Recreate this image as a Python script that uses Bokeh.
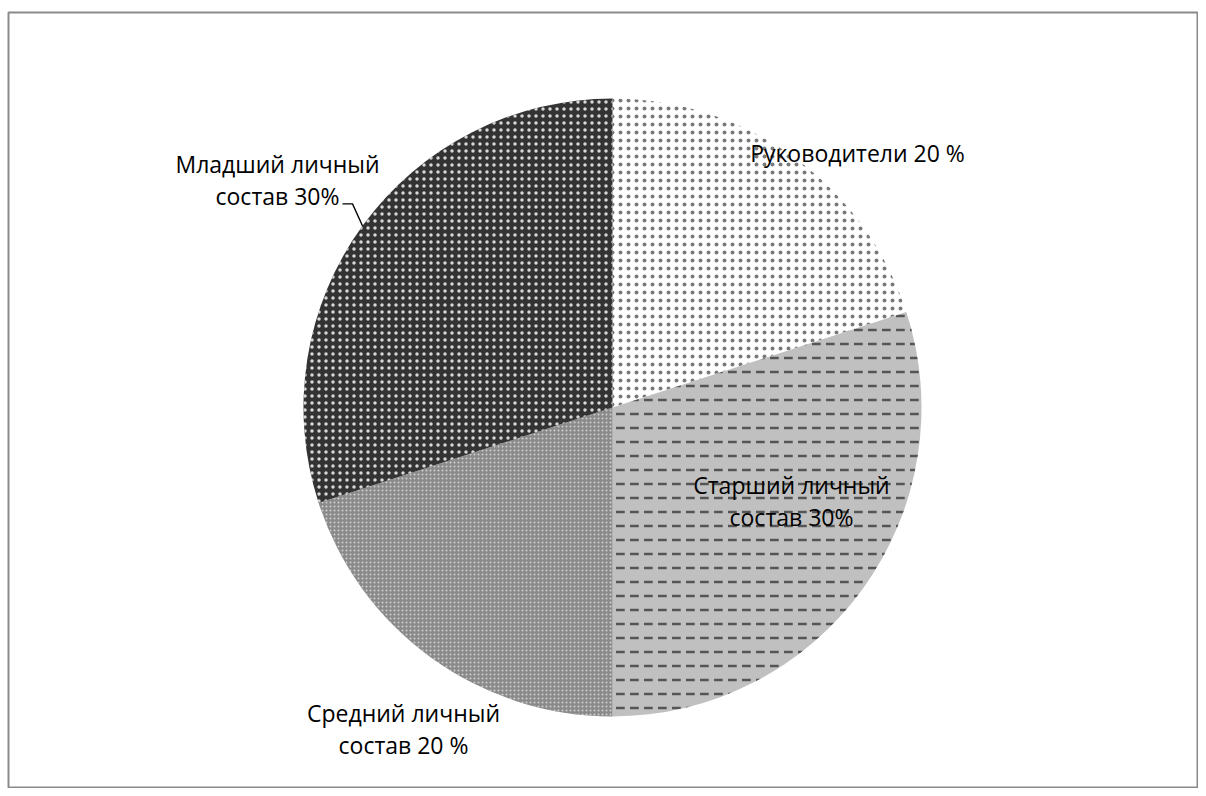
import math
from bokeh.plotting import figure
from bokeh.models import Range1d
from bokeh.core.properties import value
from bokeh.embed import file_html
from bokeh.resources import INLINE

# ---- data ----
categories = ["Руководители", "Старший личный состав", "Средний личный состав", "Младший личный состав"]
shares = [20, 30, 20, 30]
label_line1 = ["Руководители 20 %", "Старший личный", "Средний личный", "Младший личный"]
label_line2 = ["", "состав 30%", "состав 20 %", "состав 30%"]

# ---- styles ----
fills = ["#ffffff", "#c0c0c0", "#8a8a8a", "#333333"]
hatches = ["dot", "horizontal_dash", "dot", "dot"]
hatch_colors = ["#7a7a7a", "#555555", "#d0d0d0", "#d8d8d8"]
hatch_scales = [8, 14, 4, 7]
hatch_weights = [2.5, 2.5, 1.5, 2.5]

FW, FH = 1190, 776
p = figure(width=FW + 8, height=FH + 12, output_backend="svg", toolbar_location=None,
           x_range=Range1d(0, FW), y_range=Range1d(0, FH),
           min_border_left=8, min_border_right=0, min_border_top=12, min_border_bottom=0)
p.axis.visible = False
p.grid.visible = False
p.outline_line_color = "#8a8a8a"
p.outline_line_width = 2
p.background_fill_color = "white"
p.border_fill_color = "white"

cx, cy, r = 604, 381, 309
total = sum(shares)
starts, ends = [], []
a = math.pi / 2
for s in shares:
    starts.append(a)
    a -= 2 * math.pi * s / total
    ends.append(a)

for i in range(len(shares)):
    p.wedge(x=cx, y=cy, radius=r, start_angle=starts[i], end_angle=ends[i],
            direction="clock", fill_color=fills[i], line_color=None,
            hatch_pattern=hatches[i], hatch_color=hatch_colors[i],
            hatch_scale=hatch_scales[i], hatch_weight=hatch_weights[i])

# label positions (layout, relative to pie center)
offsets = [(245, 255), (179, -77), (-209, -305), (-335, 244)]
gap = 32
font = value("Open Sans")
fs = "23px"
for i in range(len(shares)):
    ox, oy = offsets[i]
    p.text(x=[cx + ox], y=[cy + oy], text=[label_line1[i]], text_font=font,
           text_font_size=fs, text_align="center", text_baseline="middle", text_color="#000000")
    if label_line2[i]:
        p.text(x=[cx + ox], y=[cy + oy - gap], text=[label_line2[i]], text_font=font,
               text_font_size=fs, text_align="center", text_baseline="middle", text_color="#000000")

# leader line for the "Младший" slice: from mid-arc point to label
mid = (starts[3] + ends[3]) / 2
ex, ey = cx + r * math.cos(mid), cy + r * math.sin(mid)
p.line(x=[ex, ex - 10, ex - 20], y=[ey, ey + 22, ey + 22], line_color="#000000", line_width=1.3)

open("out.html", "w").write(file_html(p, INLINE))
